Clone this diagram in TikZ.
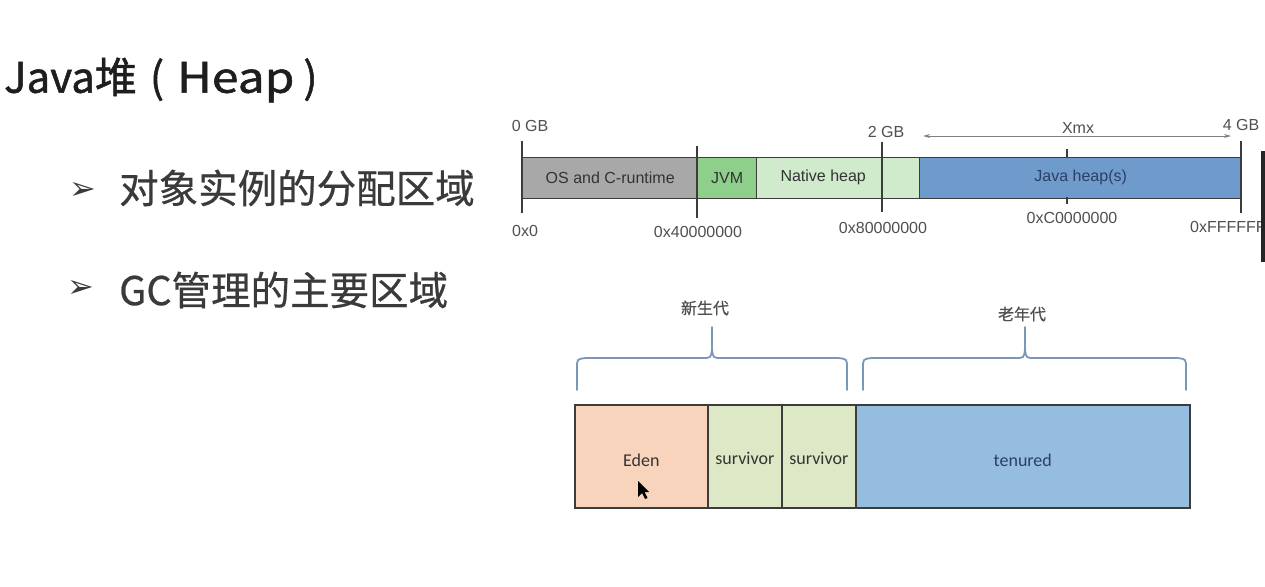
\documentclass[tikz,border=0pt]{standalone}
\usepackage{fontspec}
\usepackage{graphicx}
\setmainfont{Liberation Sans}
\newfontfamily\cjkfont{Noto Sans CJK SC}
\newfontfamily\cjkmid{Noto Sans CJK SC}[FakeBold=0.6]
\newfontfamily\cjkheavy{Noto Sans CJK SC}[FakeBold=1.2]
\newfontfamily\calfont{Carlito}
\newfontfamily\dejafont{DejaVu Sans}
\usetikzlibrary{arrows.meta}
\definecolor{segline}{HTML}{3C3C3C}
\definecolor{osgray}{HTML}{A8A8A8}
\definecolor{jvmgreen}{HTML}{8FCF8C}
\definecolor{nativegreen}{HTML}{CFEBCB}
\definecolor{javablue}{HTML}{6F9BCC}
\definecolor{edenpeach}{HTML}{F9D4BC}
\definecolor{survgreen}{HTML}{DDE8C6}
\definecolor{tenblue}{HTML}{94BDE0}
\definecolor{bracecol}{HTML}{7B96B6}
\definecolor{lblgray}{HTML}{505050}
\definecolor{headcol}{HTML}{1E1E1E}
\definecolor{bulcol}{HTML}{3A3A3A}
\definecolor{navytext}{HTML}{2C3F63}
\newcommand\barfont{\fontsize{16}{18}\selectfont}
\newcommand\botfont{\calfont\fontsize{18}{20}\selectfont}
\newcommand\lowered[2]{\raisebox{#1}[0pt][0pt]{#2}}
\tikzset{
  seg/.style={draw=segline, line width=1.4pt, minimum height=41, anchor=north west,
    inner sep=0, font=\barfont, text=black!80},
  box/.style={draw=segline, line width=1.6pt, minimum height=103, anchor=north west,
    inner sep=0, font=\botfont, text=black!80},
  tick/.style={draw=segline, line width=1.2pt},
  lbl/.style={inner sep=0, font=\barfont, text=lblgray},
  brace/.style={draw=bracecol, line width=1.8pt, line cap=round},
  genlbl/.style={inner sep=0, font=\cjkmid\fontsize{16}{18}\selectfont, text=lblgray},
  bultext/.style={inner sep=0, anchor=west, font=\cjkmid\fontsize{39.5}{42}\selectfont, text=bulcol},
  bulmark/.style={inner sep=0, font=\dejafont\fontsize{32}{34}\selectfont, text=bulcol}
}
\begin{document}
\begin{tikzpicture}[x=1pt,y=-1pt]
\useasboundingbox (0,0) rectangle (1265,586);
\fill[white] (0,0) rectangle (1265,586);

% left text
\node[inner sep=0, anchor=west, font=\cjkheavy\fontsize{42}{46}\selectfont, text=headcol] (head) at (4,80)
  {Java堆\hspace{13pt}(\hspace{13pt}\scalebox{1.14}[1]{Heap}\hspace{9pt})};
\node[bulmark] (b1) at (83,191) {➢};
\node[bultext] (t1) at (119,188) {对象实例的分配区域};
\node[bulmark] (b2) at (81,289) {➢};
\node[bultext] (t2) at (119,290) {GC管理的主要区域};

% top memory bar
\node[seg, fill=osgray, minimum width=175] (os) at (522,156.5) {OS and C-runtime};
\node[seg, fill=jvmgreen, minimum width=59] (jvm) at (697,156.5) {JVM};
\node[seg, fill=nativegreen, minimum width=163] (native) at (756,156.5) {\hspace*{-30pt}Native heap};
\node[seg, fill=javablue, minimum width=322, text=navytext] (jheap) at (919,156.5) {Java heap(s)};

% ticks
\draw[tick] (522,141) -- (522,213);
\draw[tick] (697,146) -- (697,218);
\draw[tick] (882,142) -- (882,212);
\draw[tick] (1067,149) -- (1067,157);
\draw[tick] (1067,197) -- (1067,204);
\draw[tick] (1241,141) -- (1241,213);

% top labels
\node[lbl] (g0) at (530,126) {0 GB};
\node[lbl] (g2) at (886,132) {2 GB};
\node[lbl] (g4) at (1241,125) {4 GB};
\node[lbl] (xmx) at (1078,128) {Xmx};
\coordinate (xl) at (923,136);
\coordinate (xr) at (1231,136);
\draw[draw=gray, line width=0.9pt, {Stealth[length=7pt,width=4pt]}-{Stealth[length=7pt,width=4pt]}] (xl) -- (xr);
\node[lbl] (a0) at (525,231) {0x0};
\node[lbl] (a4) at (698,232) {0x40000000};
\node[lbl] (a8) at (883,228) {0x80000000};
\node[lbl] (ac) at (1072,218) {0xC0000000};
\node[lbl, anchor=west] (af) at (1190,227) {0xFFFFFFFF};

% generation boxes
\node[box, fill=edenpeach, minimum width=133] (eden) at (574,404) {\lowered{-10pt}{Eden}};
\node[box, fill=survgreen, minimum width=74] (s1) at (707,404) {\lowered{-8pt}{survivor}};
\node[box, fill=survgreen, minimum width=74] (s2) at (781,404) {\lowered{-8pt}{survivor}};
\node[box, fill=tenblue, minimum width=334, text=navytext] (ten) at (855,404) {\lowered{-10pt}{tenured}};

% braces
\draw[brace] (577,390) -- (577,368) .. controls (577,359) .. (586,358) -- (702,358)
  .. controls (711,358) .. (712,349) -- (712,327);
\draw[brace] (847,390) -- (847,368) .. controls (847,359) .. (838,358) -- (722,358)
  .. controls (713,358) .. (712,349);
\draw[brace] (863,390) -- (863,368) .. controls (863,359) .. (872,358) -- (1015,358)
  .. controls (1024,358) .. (1025,349) -- (1025,327);
\draw[brace] (1186,390) -- (1186,368) .. controls (1186,359) .. (1177,358) -- (1035,358)
  .. controls (1026,358) .. (1025,349);
\node[genlbl] (young) at (705,308) {新生代};
\node[genlbl] (old) at (1022,314) {老年代};

% mouse cursor
\fill[black] (638,481) -- (638,497) -- (642,493) -- (645,499) -- (647.5,498) -- (644.5,492) -- (649,492) -- cycle;

% screen edge bar
\fill[black!85] (1261,151) rectangle (1265,262);
\end{tikzpicture}
\end{document}
